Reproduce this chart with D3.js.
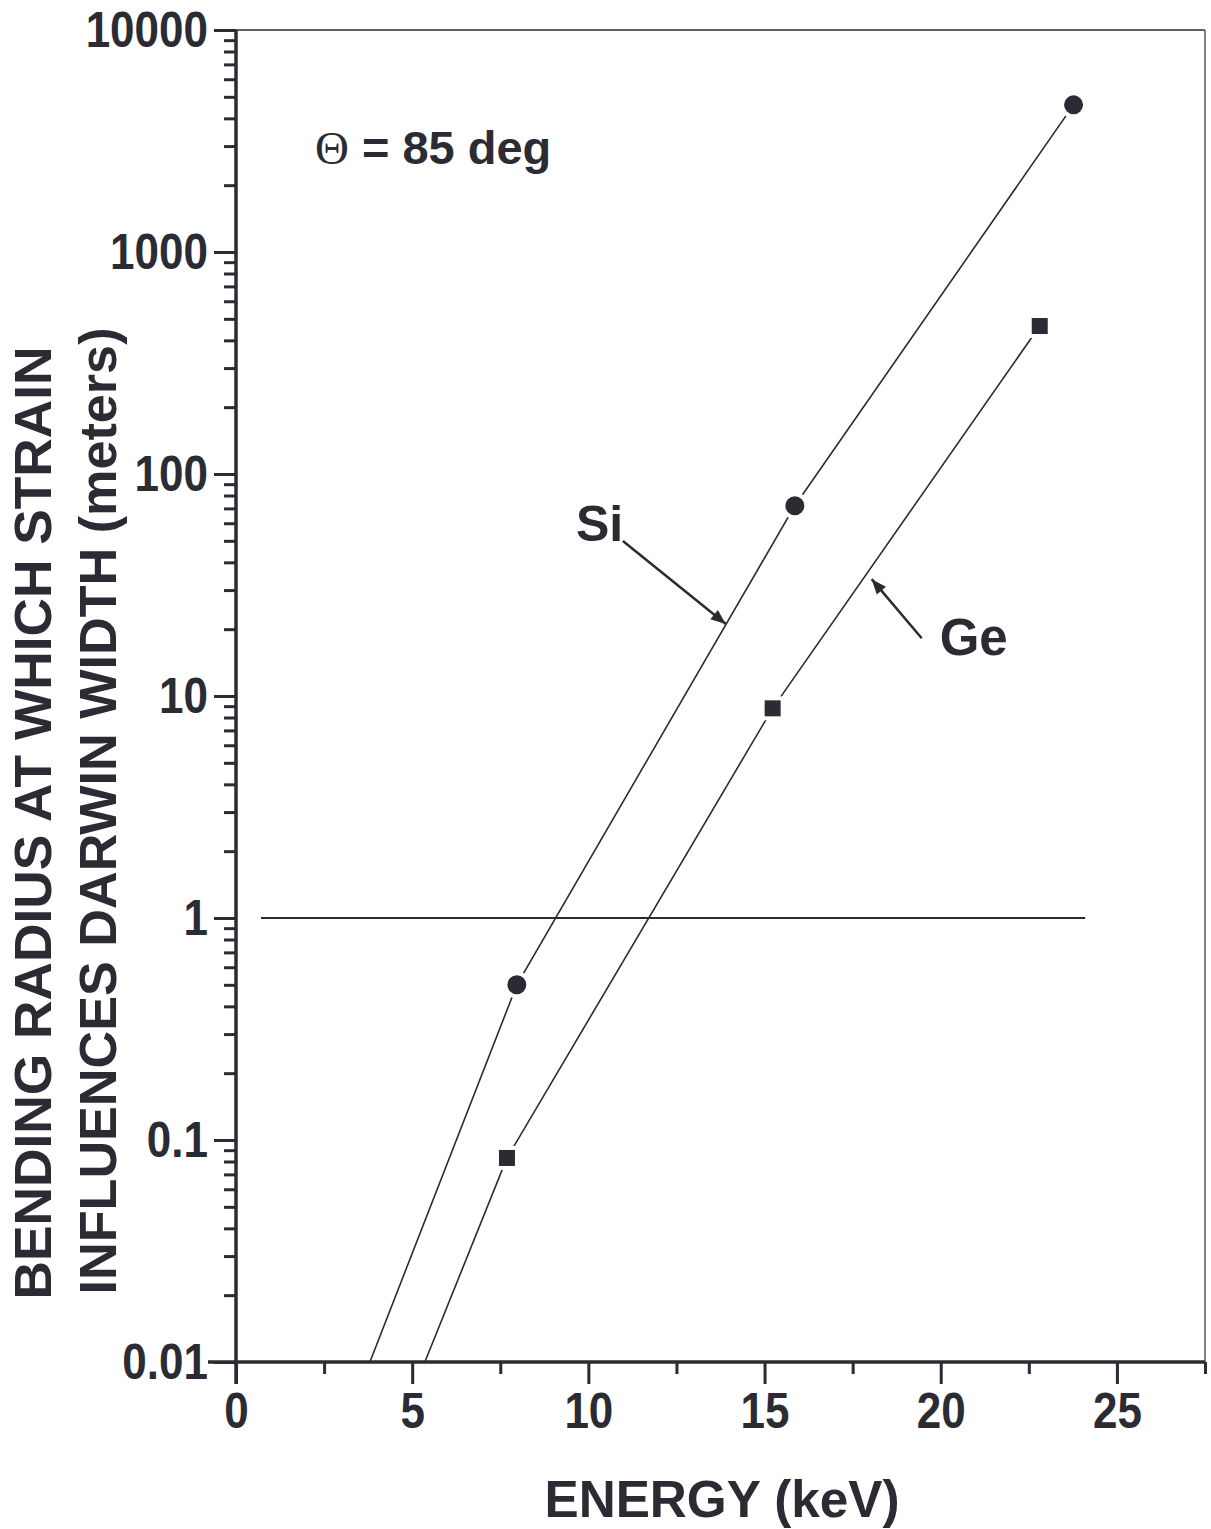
<!DOCTYPE html>
<html>
<head>
<meta charset="utf-8">
<script src="https://cdn.jsdelivr.net/npm/d3@7"></script>
<style>
  body { margin: 0; background: #fff; }
  svg text { font-family: "Liberation Sans", Arial, sans-serif; font-weight: bold; fill: #2b2b33; }
</style>
</head>
<body>
<script>
// data
var siEnergy = [7.97, 15.86, 23.77];
var siRadius = [0.5, 72, 4600];
var geEnergy = [7.69, 15.23, 22.81];
var geRadius = [0.083, 8.8, 464];
// line ends where the curves leave the bottom of the plot
var siLineEnergy = [3.8, 7.97, 15.86, 23.77];
var siLineRadius = [0.01, 0.5, 72, 4600];
var geLineEnergy = [5.36, 7.69, 15.23, 22.81];
var geLineRadius = [0.01, 0.083, 8.8, 464];
var unityLine = [[0.71, 1], [24.1, 1]];
var xTicks = [0, 5, 10, 15, 20, 25];
var xMinorTicks = [2.5, 7.5, 12.5, 17.5, 22.5, 27.5];
var yTicks = [0.01, 0.1, 1, 10, 100, 1000, 10000];

var width = 1211, height = 1529;
var ink = "#2b2b33";

var svg = d3.select("body").append("svg")
  .attr("width", width).attr("height", height);

var xscale = d3.scaleLinear().domain([0, 27.5]).range([236, 1205]);
var yscale = d3.scaleLog().domain([0.01, 10000]).range([1362, 30]);

// frame: thin top and right
svg.append("line").attr("x1", xscale(0)).attr("x2", xscale(27.5))
  .attr("y1", yscale(10000)).attr("y2", yscale(10000))
  .attr("stroke", ink).attr("stroke-width", 1.5);
svg.append("line").attr("x1", xscale(27.5)).attr("x2", xscale(27.5))
  .attr("y1", yscale(10000)).attr("y2", yscale(0.01))
  .attr("stroke", "#555").attr("stroke-width", 1.5);

// y minor ticks
var yMinor = [];
for (var d = 0; d < yTicks.length - 1; d++)
{
  for (var m = 2; m < 10; m++) yMinor.push(yTicks[d] * m);
}
var yaxisMinor = d3.axisLeft(yscale).tickValues(yMinor).tickSize(12).tickFormat("");
svg.append("g").attr("transform", "translate(" + xscale(0) + ",0)")
  .call(yaxisMinor);

var yaxis = d3.axisLeft(yscale).tickValues(yTicks).tickSize(22).tickPadding(6)
  .tickFormat(function(d) { return d >= 1 ? d3.format("d")(d) : String(d); });
var gy = svg.append("g").attr("class", "yaxis")
  .attr("transform", "translate(" + xscale(0) + ",0)")
  .call(yaxis);

var xaxisMinor = d3.axisBottom(xscale).tickValues(xMinorTicks).tickSize(12).tickFormat("");
svg.append("g").attr("transform", "translate(0," + yscale(0.01) + ")")
  .call(xaxisMinor);

var xaxis = d3.axisBottom(xscale).tickValues(xTicks).tickSize(22).tickPadding(8);
var gx = svg.append("g").attr("class", "xaxis")
  .attr("transform", "translate(0," + yscale(0.01) + ")")
  .call(xaxis);

svg.selectAll(".domain").remove();
svg.selectAll(".tick line").attr("stroke", ink).attr("stroke-width", 3);

// tick labels: taller, narrow glyphs like the original print
svg.selectAll(".tick text").attr("fill", ink).style("font-size", "44px")
  .each(function() {
    var w = this.getComputedTextLength();
    d3.select(this).style("font-size", "50px")
      .attr("textLength", w).attr("lengthAdjust", "spacingAndGlyphs");
  });

// main axis lines, extended past the corner like the original
svg.append("line").attr("x1", xscale(0)).attr("x2", xscale(0))
  .attr("y1", yscale(10000)).attr("y2", yscale(0.01) + 22)
  .attr("stroke", ink).attr("stroke-width", 3.5);
svg.append("line").attr("x1", xscale(0) - 28).attr("x2", xscale(27.5))
  .attr("y1", yscale(0.01)).attr("y2", yscale(0.01))
  .attr("stroke", ink).attr("stroke-width", 3.5);

// curves
var line = d3.line()
  .x(function(d) { return xscale(d[0]); })
  .y(function(d) { return yscale(d[1]); });

svg.append("path").datum(d3.zip(siLineEnergy, siLineRadius))
  .attr("d", line).attr("fill", "none").attr("stroke", ink).attr("stroke-width", 1.6);
svg.append("path").datum(d3.zip(geLineEnergy, geLineRadius))
  .attr("d", line).attr("fill", "none").attr("stroke", ink).attr("stroke-width", 1.6);
svg.append("path").datum(unityLine)
  .attr("d", line).attr("fill", "none").attr("stroke", ink).attr("stroke-width", 2);

// markers with a white halo so the line breaks near them
svg.selectAll(".si").data(d3.zip(siEnergy, siRadius)).enter().append("circle")
  .attr("class", "si")
  .attr("cx", function(d) { return xscale(d[0]); })
  .attr("cy", function(d) { return yscale(d[1]); })
  .attr("r", 11.5).attr("fill", ink).attr("stroke", "#fff").attr("stroke-width", 4);

svg.selectAll(".ge").data(d3.zip(geEnergy, geRadius)).enter().append("rect")
  .attr("class", "ge")
  .attr("x", function(d) { return xscale(d[0]) - 10; })
  .attr("y", function(d) { return yscale(d[1]) - 10; })
  .attr("width", 20).attr("height", 20)
  .attr("fill", ink).attr("stroke", "#fff").attr("stroke-width", 4);

// arrows
svg.append("defs").append("marker").attr("id", "head")
  .attr("viewBox", "0 0 10 10").attr("refX", 10).attr("refY", 5)
  .attr("markerWidth", 8).attr("markerHeight", 6).attr("orient", "auto")
  .attr("markerUnits", "strokeWidth")
  .append("path").attr("d", "M0,1 L10,5 L0,9 Z").attr("fill", ink);

var arrows = [
  [[10.98, 49.9], [13.9, 21.1]],
  [[19.46, 18.2], [18.04, 33.6]]
];
svg.selectAll(".arrow").data(arrows).enter().append("line")
  .attr("x1", function(d) { return xscale(d[0][0]); })
  .attr("y1", function(d) { return yscale(d[0][1]); })
  .attr("x2", function(d) { return xscale(d[1][0]); })
  .attr("y2", function(d) { return yscale(d[1][1]); })
  .attr("stroke", ink).attr("stroke-width", 2.5).attr("marker-end", "url(#head)");

svg.append("text").attr("x", xscale(9.65)).attr("y", yscale(50))
  .style("font-size", "50px").text("Si");
svg.append("text").attr("x", xscale(19.97)).attr("y", yscale(15.3))
  .style("font-size", "51px").text("Ge");

// angle note
var note = svg.append("text").attr("x", xscale(2.24)).attr("y", yscale(2490))
  .style("font-size", "47px");
note.append("tspan").style("font-family", "'Liberation Serif', 'DejaVu Serif', serif")
  .style("font-weight", "normal").text("\u0398");
note.append("tspan").text(" = 85 deg");

// axis titles
svg.append("text").attr("x", 722).attr("y", 1517).attr("text-anchor", "middle")
  .attr("textLength", 355).attr("lengthAdjust", "spacingAndGlyphs")
  .style("font-size", "52px").text("ENERGY (keV)");

svg.append("text").attr("transform", "translate(51,823) rotate(-90)")
  .attr("text-anchor", "middle")
  .attr("textLength", 953).attr("lengthAdjust", "spacingAndGlyphs")
  .style("font-size", "52px").text("BENDING RADIUS AT WHICH STRAIN");
svg.append("text").attr("transform", "translate(116,811) rotate(-90)")
  .attr("text-anchor", "middle")
  .attr("textLength", 967).attr("lengthAdjust", "spacingAndGlyphs")
  .style("font-size", "52px").text("INFLUENCES DARWIN WIDTH (meters)");
</script>
</body>
</html>
